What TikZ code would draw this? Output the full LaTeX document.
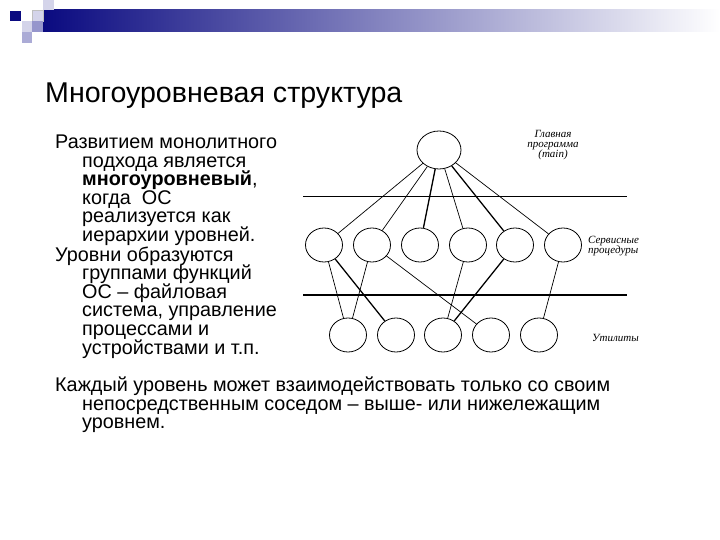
\documentclass[tikz,border=0pt]{standalone}
\usepackage{fontspec}
\setmainfont{Liberation Sans}
\newfontfamily\podpis{Liberation Serif}
\usetikzlibrary{shapes.geometric}
\definecolor{sinij}{RGB}{10,10,128}
\definecolor{svetl}{RGB}{212,212,234}
\definecolor{sredn}{RGB}{150,150,204}

\begin{document}
\begin{tikzpicture}[x=1pt,y=-1pt]
    % Стили
    \tikzset{
        krug/.style={ellipse, draw, line width=0.8pt, minimum width=37pt, minimum height=34pt, inner sep=0pt},
        svyaz/.style={line width=0.7pt},
        svyazT/.style={line width=1.3pt},
        granica/.style={line width=1.6pt},
        metka/.style={font=\podpis\itshape\fontsize{11}{10}\selectfont, align=center, inner sep=0pt},
        abzac/.style={anchor=base west, inner sep=0pt, font=\fontsize{19.8}{18.6}\selectfont}
    }
    \useasboundingbox (0,0) rectangle (720,540);

    % Шапка
    \shade[left color=sinij, right color=white] (43,10) rectangle (720,32);
    \fill[svetl] (43,0) rectangle (54,10);
    \fill[sinij] (10,11) rectangle (21,21);
    \fill[svetl, draw=gray!50] (32,10) rectangle (43,21);
    \fill[svetl] (22,21) rectangle (32,32);
    \fill[sredn] (32,21) rectangle (43,32);
    \fill[sredn!80] (22,32) rectangle (32,43);

    % Заголовок
    \node[anchor=base west, inner sep=0pt, font=\fontsize{28.6}{30}\selectfont] (zag) at (45,103) {Многоуровневая структура};

    % Текст
    \node[abzac] (p1) at (55,148.5) {\parbox[t]{280pt}{\lineskiplimit=-20pt \hangindent=27pt \hangafter=1
        Развитием монолитного\newline подхода является\newline \textbf{многоуровневый},\newline когда\ \ ОС\newline реализуется как\newline иерархии уровней.}};
    \node[abzac] (p2) at (55,261) {\parbox[t]{280pt}{\lineskiplimit=-20pt \hangindent=27pt \hangafter=1
        Уровни образуются\newline группами функций\newline ОС -- файловая\newline система, управление\newline процессами и\newline устройствами и т.п.}};
    \node[abzac] (p3) at (55,391.5) {\parbox[t]{650pt}{\lineskiplimit=-20pt \hangindent=27pt \hangafter=1
        Каждый уровень может взаимодействовать только со своим\newline непосредственным соседом -- выше- или нижележащим\newline уровнем.}};

    % Уровни
    \coordinate (g1a) at (303,196.5);
    \coordinate (g1b) at (627,196.5);
    \coordinate (g2a) at (303,295);
    \coordinate (g2b) at (627,295);
    \draw[granica] (g1a) -- (g1b);
    \draw[granica] (g2a) -- (g2b);

    % Главная программа
    \node[krug, minimum width=44pt, minimum height=38pt] (glav) at (439,150) {};
    % Сервисные процедуры
    \node[krug] (s1) at (324,245) {};
    \node[krug] (s2) at (372,245) {};
    \node[krug] (s3) at (420,245) {};
    \node[krug] (s4) at (468,245) {};
    \node[krug] (s5) at (515,245) {};
    \node[krug] (s6) at (563,245) {};
    % Утилиты
    \node[krug] (u1) at (348,335) {};
    \node[krug] (u2) at (396,335) {};
    \node[krug] (u3) at (443,335) {};
    \node[krug] (u4) at (491,335) {};
    \node[krug] (u5) at (539,335) {};

    % Связи
    \draw[svyaz] (glav) -- (s1);
    \draw[svyaz] (glav) -- (s2);
    \draw[svyazT] (glav) -- (s3);
    \draw[svyaz] (glav) -- (s4);
    \draw[svyazT] (glav) -- (s5);
    \draw[svyaz] (glav) -- (s6);
    \draw[svyaz] (s1) -- (u1);
    \draw[svyazT] (s1) -- (u2);
    \draw[svyaz] (s2) -- (u1);
    \draw[svyaz] (s2) -- (u4);
    \draw[svyaz] (s4) -- (u3);
    \draw[svyazT] (s5) -- (u3);
    \draw[svyaz] (s6) -- (u5);

    % Подписи
    \node[metka] (lglav) at (553,145) {Главная\\программа\\(main)};
    \node[metka, align=left, anchor=west] (lserv) at (588,246) {Сервисные\\процедуры};
    \node[metka, anchor=west] (lutil) at (592,338) {Утилиты};
\end{tikzpicture}
\end{document}
